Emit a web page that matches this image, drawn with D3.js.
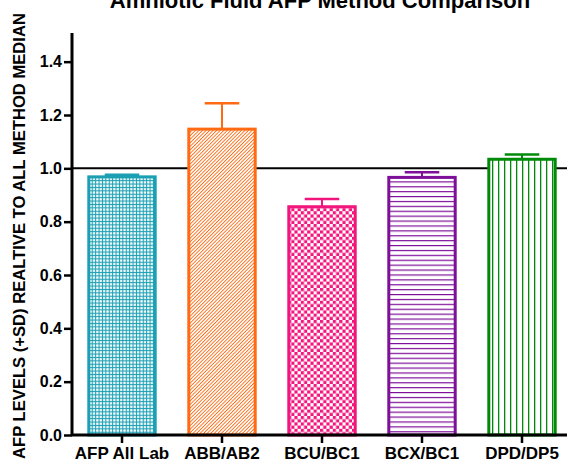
<!DOCTYPE html>
<html>
<head>
<meta charset="utf-8">
<script src="https://cdn.jsdelivr.net/npm/d3@7/dist/d3.min.js"></script>
<style>
  html, body { margin: 0; padding: 0; background: #fff; }
  svg { display: block; font-family: Arial, "Liberation Sans", Helvetica, sans-serif; }
</style>
</head>
<body>
<svg id="chart" width="567" height="467"></svg>
<script>
// Method comparison data: mean ratio to the all-method median, with SD
const categories = ["AFP All Lab", "ABB/AB2", "BCU/BC1", "BCX/BC1", "DPD/DP5"];
const means = [0.968, 1.147, 0.856, 0.966, 1.034];
const sds = [0.008, 0.097, 0.029, 0.019, 0.018];
const yTicks = [0.0, 0.2, 0.4, 0.6, 0.8, 1.0, 1.2, 1.4];
const referenceValue = 1.0;

const colors = ["#1a9fb3", "#ff6a13", "#f2157d", "#7d0f99", "#008a0a"];
const patternIds = ["pat-dots", "pat-diag", "pat-check", "pat-horiz", "pat-vert"];

const svg = d3.select("#chart");
const margin = { left: 72, right: 0, top: 35, bottom: 32 };
const W = 567, H = 467;

const x = d3.scaleBand()
  .domain(categories)
  .range([margin.left, 572])
  .paddingInner(0.336)
  .paddingOuter(0.168);

const y = d3.scaleLinear()
  .domain([0, 1.5])
  .range([H - margin.bottom, margin.top]);

// Fill patterns for each method
const defs = svg.append("defs");

// teal grid of small white squares
const p0 = defs.append("pattern").attr("id", patternIds[0])
  .attr("patternUnits", "userSpaceOnUse").attr("width", 3.4).attr("height", 3.4);
p0.append("rect").attr("width", 3.4).attr("height", 3.4).attr("fill", colors[0]);
p0.append("rect").attr("x", 1).attr("y", 1).attr("width", 2.3).attr("height", 2.3).attr("fill", "#fff");

// orange diagonal hatch
const p1 = defs.append("pattern").attr("id", patternIds[1])
  .attr("patternUnits", "userSpaceOnUse").attr("width", 2.5).attr("height", 2.5)
  .attr("patternTransform", "rotate(45)");
p1.append("rect").attr("width", 2.5).attr("height", 2.5).attr("fill", "#fff");
p1.append("rect").attr("x", 0).attr("y", 0).attr("width", 0.9).attr("height", 2.5).attr("fill", colors[1]);

// pink checkerboard
const c = 3.2;
const p2 = defs.append("pattern").attr("id", patternIds[2])
  .attr("patternUnits", "userSpaceOnUse").attr("width", 2 * c).attr("height", 2 * c);
p2.append("rect").attr("width", 2 * c).attr("height", 2 * c).attr("fill", "#fff");
p2.append("rect").attr("x", 0).attr("y", 0).attr("width", c).attr("height", c).attr("fill", colors[2]);
p2.append("rect").attr("x", c).attr("y", c).attr("width", c).attr("height", c).attr("fill", colors[2]);

// purple horizontal lines
const p3 = defs.append("pattern").attr("id", patternIds[3])
  .attr("patternUnits", "userSpaceOnUse").attr("width", 10).attr("height", 4.9);
p3.append("rect").attr("width", 10).attr("height", 4.9).attr("fill", "#fff");
p3.append("rect").attr("x", 0).attr("y", 0).attr("width", 10).attr("height", 1.2).attr("fill", colors[3]);

// green vertical lines
const p4 = defs.append("pattern").attr("id", patternIds[4])
  .attr("patternUnits", "userSpaceOnUse").attr("width", 6).attr("height", 10);
p4.append("rect").attr("width", 6).attr("height", 10).attr("fill", "#fff");
p4.append("rect").attr("x", 0).attr("y", 0).attr("width", 1.3).attr("height", 10).attr("fill", colors[4]);

// Reference line at the all-method median
svg.append("line")
  .attr("x1", margin.left).attr("x2", W)
  .attr("y1", y(referenceValue)).attr("y2", y(referenceValue))
  .attr("stroke", "#000").attr("stroke-width", 2);

// Error bars (+SD only)
const err = svg.append("g").attr("class", "errors");
categories.forEach((cat, i) => {
  const cx = x(cat) + x.bandwidth() / 2;
  const half = x.bandwidth() * 0.26;
  err.append("line")
    .attr("x1", cx).attr("x2", cx)
    .attr("y1", y(means[i])).attr("y2", y(means[i] + sds[i]))
    .attr("stroke", colors[i]).attr("stroke-width", 2);
  err.append("line")
    .attr("x1", cx - half).attr("x2", cx + half)
    .attr("y1", y(means[i] + sds[i])).attr("y2", y(means[i] + sds[i]))
    .attr("stroke", colors[i]).attr("stroke-width", 2.5);
});

// Bars
const bars = svg.append("g").attr("class", "bars");
categories.forEach((cat, i) => {
  bars.append("rect")
    .attr("x", x(cat)).attr("width", x.bandwidth())
    .attr("y", y(means[i])).attr("height", y(0) - y(means[i]))
    .attr("fill", "#fff");
  bars.append("rect")
    .attr("x", x(cat)).attr("width", x.bandwidth())
    .attr("y", y(means[i])).attr("height", y(0) - y(means[i]))
    .attr("fill", `url(#${patternIds[i]})`)
    .attr("stroke", colors[i]).attr("stroke-width", 3);
});

// Axes
const yAxis = svg.append("g")
  .attr("transform", `translate(${margin.left},0)`)
  .call(d3.axisLeft(y).tickValues(yTicks).tickFormat(d3.format(".1f")).tickSize(8).tickPadding(2));
const xAxis = svg.append("g")
  .attr("transform", `translate(0,${y(0)})`)
  .call(d3.axisBottom(x).tickSize(8).tickPadding(4));

[yAxis, xAxis].forEach(g => {
  g.select(".domain").attr("stroke", "#000").attr("stroke-width", 3);
  g.selectAll(".tick line").attr("stroke", "#000").attr("stroke-width", 2.5);
  g.selectAll("text")
    .attr("fill", "#000")
    .style("font-family", "Arial, 'Liberation Sans', sans-serif")
    .style("font-weight", "bold");
});
yAxis.select(".domain").attr("d", `M0,${y(0)}V${margin.top - 2}`);
xAxis.select(".domain").attr("d", `M${margin.left},0H${W}`);
yAxis.selectAll("text").style("font-size", "16px");
xAxis.selectAll("text").style("font-size", "17px");

// Title and y-axis title
svg.append("text")
  .attr("x", 320).attr("y", 8)
  .attr("text-anchor", "middle")
  .style("font-size", "22px").style("font-weight", "bold")
  .text("Amniotic Fluid AFP Method Comparison");

svg.append("text")
  .attr("transform", `translate(25,${236}) rotate(-90)`)
  .attr("text-anchor", "middle")
  .style("font-size", "16.6px").style("font-weight", "bold")
  .text("AFP LEVELS (+SD) REALTIVE TO ALL METHOD MEDIAN");
</script>
</body>
</html>
